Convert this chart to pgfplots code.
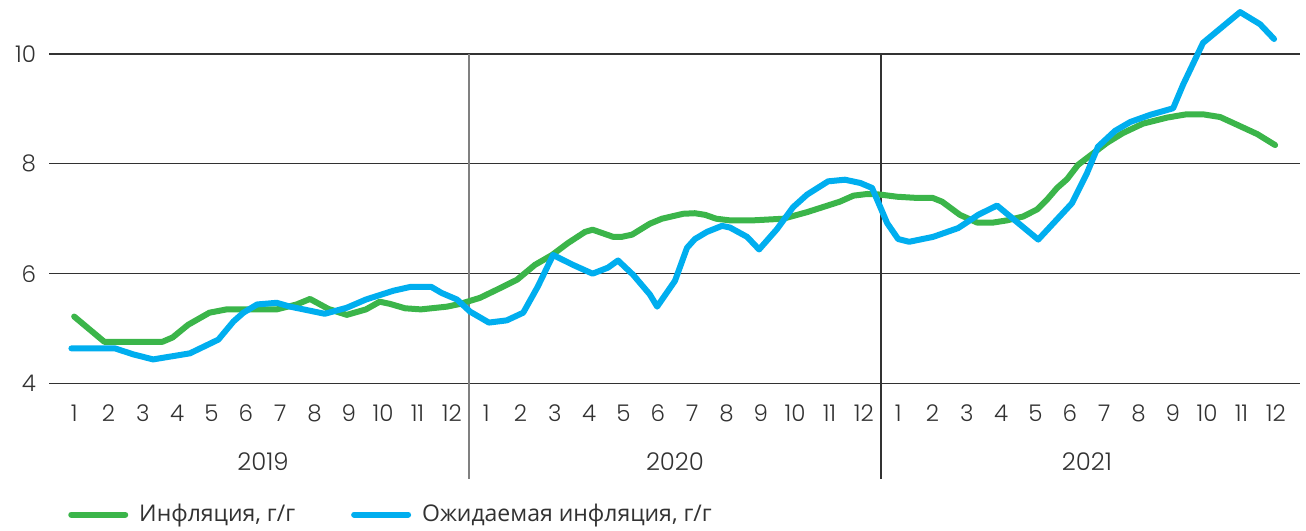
\documentclass[border=0pt]{standalone}
\usepackage{fontspec}
\setmainfont{Poppins}[UprightFont=* Light]
\newfontfamily\cyr{Open Sans}
\usepackage{pgfplots}
\pgfplotsset{compat=1.18}
\definecolor{infl}{RGB}{59,181,74}
\definecolor{expect}{RGB}{0,174,239}
\definecolor{gridc}{RGB}{50,50,50}

\begin{document}
\begin{tikzpicture}
\begin{axis}[
    scale only axis,
    width=625.5pt, height=191pt,
    xmin=-0.23, xmax=36.2,
    ymin=4, ymax=10.95,
    clip=false,
    axis line style={draw=none},
    tick style={draw=none},
    ytick={4,6,8,10},
    ymajorgrids,
    grid style={gridc, line width=0.7pt},
    xtick={0.5,1.5,...,35.5},
    xticklabels={1,2,3,4,5,6,7,8,9,10,11,12,1,2,3,4,5,6,7,8,9,10,11,12,1,2,3,4,5,6,7,8,9,10,11,12},
    ticklabel style={font=\fontsize{11.5}{13}\selectfont, text=gridc},
    /pgf/number format/assume math mode=true,
    yticklabel style={xshift=-3pt},
    xticklabel style={yshift=-7pt},
    legend style={at={(0.015,-0.343)}, anchor=west, draw=none, inner sep=0pt,
        font=\cyr\fontsize{11.5}{13}\selectfont, text=gridc,
        /tikz/every even column/.append style={column sep=26pt}},
    legend columns=2,
    legend cell align=left,
    legend image code/.code={\draw[#1, line width=3pt] (0pt,0pt) -- (27pt,0pt); \path (30.5pt,0pt);},
]
\path (axis cs:-1.66,1.327) rectangle (axis cs:36.38,10.98);
\draw[gray, line width=0.7pt] (axis cs:12,10) -- (axis cs:12,2.255);
\draw[gridc, line width=0.7pt] (axis cs:24,10) -- (axis cs:24,2.255);
\node[text=gridc, font=\fontsize{12.2}{14}\selectfont] at (axis cs:6,2.58) {2019};
\node[text=gridc, font=\fontsize{12.2}{14}\selectfont] at (axis cs:18,2.58) {2020};
\node[text=gridc, font=\fontsize{12.2}{14}\selectfont] at (axis cs:30,2.58) {2021};

\addplot[infl, line width=3pt, line join=round, line cap=round] coordinates {
(0.5,5.22) (1.38,4.76) (3.07,4.76) (3.37,4.84) (3.82,5.07) (4.44,5.29) (4.94,5.35)
(6.4,5.35) (6.98,5.44) (7.37,5.54) (7.9,5.36) (8.44,5.25) (9.0,5.35) (9.4,5.49)
(9.7,5.45) (10.14,5.37) (10.6,5.35) (11.36,5.40) (11.74,5.45) (12.32,5.56)
(12.85,5.72) (13.4,5.89) (13.92,6.16) (14.42,6.34) (14.89,6.56) (15.38,6.76)
(15.6,6.80) (16.2,6.67) (16.45,6.67) (16.75,6.71) (17.27,6.91) (17.62,7.00)
(18.24,7.09) (18.58,7.10) (18.88,7.07) (19.2,7.00) (19.6,6.97) (20.27,6.97)
(21.15,7.00) (21.85,7.12) (22.8,7.31) (23.2,7.42) (23.6,7.45) (23.97,7.44)
(24.47,7.40) (25.0,7.38) (25.5,7.38) (25.78,7.31) (26.3,7.07) (26.8,6.93)
(27.27,6.93) (27.67,6.97) (28.14,7.04) (28.55,7.17) (28.84,7.35) (29.13,7.56)
(29.42,7.72) (29.74,7.98) (30.18,8.19) (30.58,8.38) (31.05,8.56) (31.63,8.73)
(32.33,8.84) (32.9,8.90) (33.38,8.90) (33.88,8.85) (34.37,8.71) (34.96,8.54)
(35.48,8.34)
};
\addlegendentry{Инфляция, г/г}

\addplot[expect, line width=3pt, line join=round, line cap=round] coordinates {
(0.42,4.64) (1.69,4.64) (2.23,4.53) (2.8,4.44) (3.87,4.55) (4.7,4.80) (5.14,5.13)
(5.43,5.29) (5.83,5.44) (6.4,5.47) (6.79,5.40) (7.18,5.35) (7.8,5.27) (8.44,5.38)
(9.0,5.53) (9.8,5.69) (10.3,5.76) (10.9,5.76) (11.2,5.65) (11.65,5.53) (12.03,5.31)
(12.58,5.11) (13.1,5.15) (13.58,5.29) (14.0,5.76) (14.45,6.34) (15.03,6.16)
(15.6,6.00) (16.05,6.11) (16.34,6.24) (16.78,5.98) (17.27,5.62) (17.48,5.40)
(18.0,5.87) (18.35,6.47) (18.58,6.63) (18.93,6.76) (19.37,6.87) (19.6,6.84)
(20.1,6.67) (20.45,6.44) (20.97,6.81) (21.44,7.21) (21.85,7.44) (22.46,7.68)
(22.95,7.71) (23.4,7.65) (23.74,7.56) (24.18,6.92) (24.5,6.63) (24.82,6.58)
(25.52,6.67) (26.25,6.83) (26.83,7.07) (27.38,7.24) (27.96,6.94) (28.58,6.62)
(29.56,7.28) (30.0,7.83) (30.32,8.31) (30.82,8.60) (31.26,8.76) (31.84,8.89)
(32.51,9.01) (32.8,9.44) (33.38,10.2) (34.46,10.76) (35.04,10.54) (35.45,10.27)
};
\addlegendentry{Ожидаемая инфляция, г/г}
\end{axis}
\end{tikzpicture}
\end{document}
